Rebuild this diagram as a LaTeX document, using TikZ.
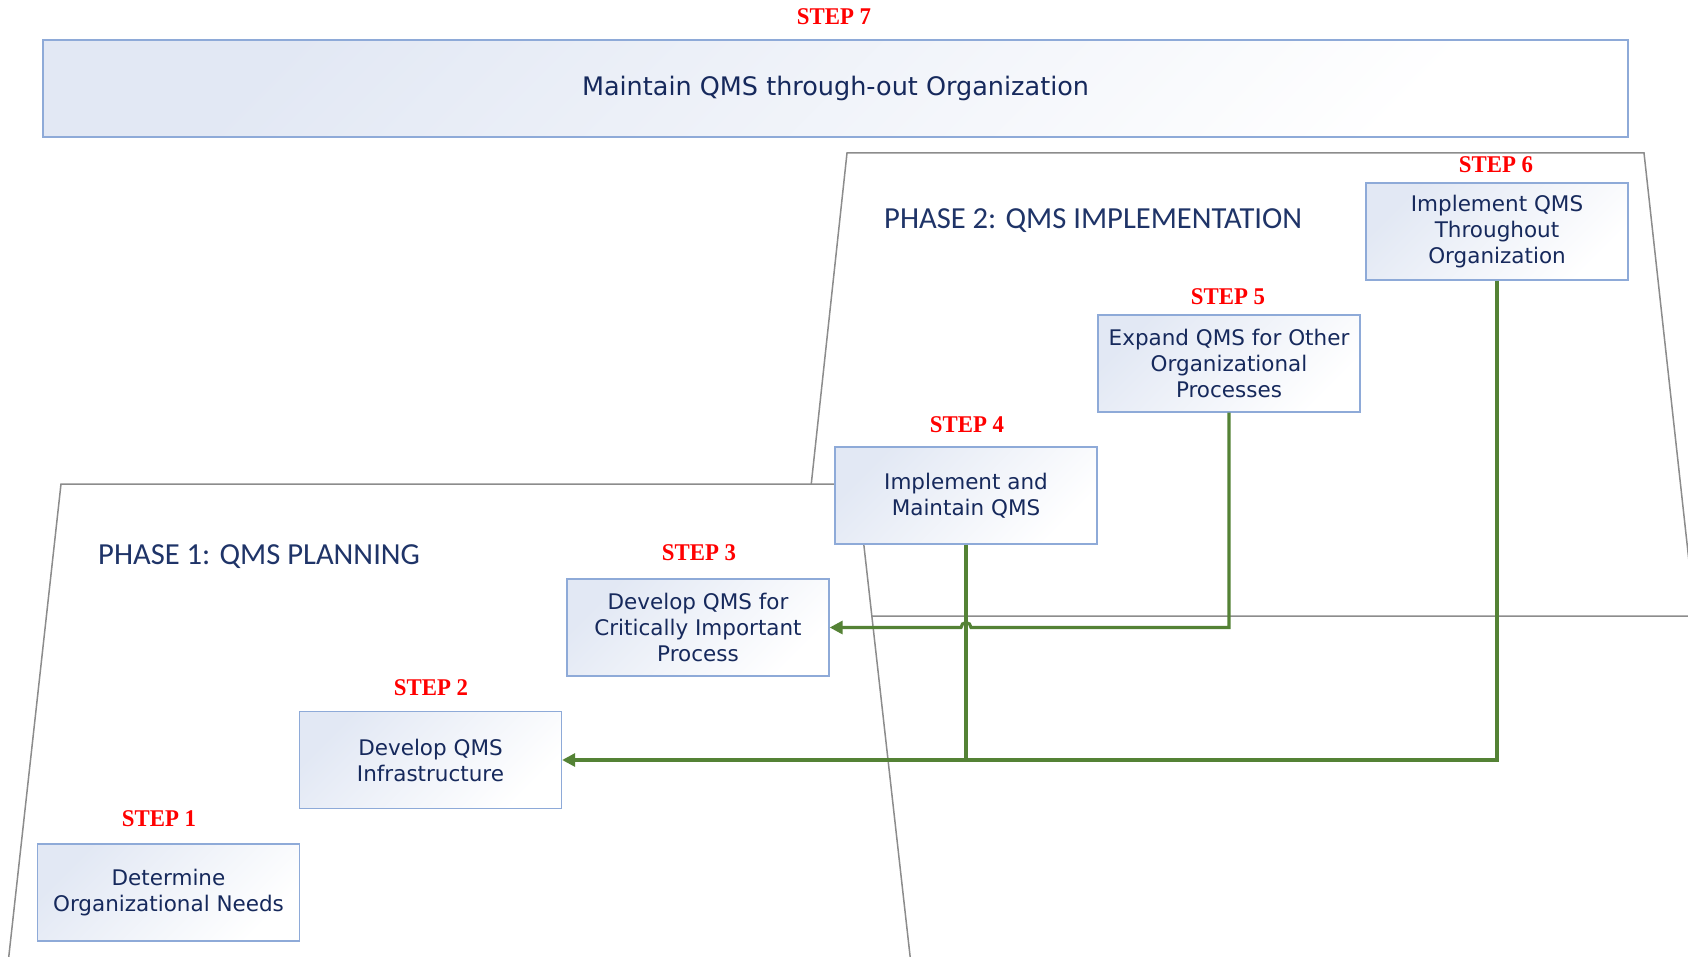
\documentclass[tikz,border=0pt]{standalone}
\usepackage{fontspec}
\setmainfont{DejaVu Sans}
\newfontfamily\stepfont{Liberation Serif}
\newfontfamily\phasefont{Carlito}
\usetikzlibrary{arrows.meta,calc}

\definecolor{boxline}{HTML}{8EAAD8}
\definecolor{boxtint}{HTML}{E2E8F4}
\definecolor{navy}{HTML}{16295C}
\definecolor{phasenavy}{HTML}{1F3468}
\definecolor{flowgreen}{HTML}{548235}
\definecolor{stepred}{HTML}{FF0000}
\definecolor{outline}{HTML}{8C8C8C}

\tikzset{
  stepbox/.style={draw=boxline, line width=1.3pt, top color=boxtint, bottom color=white,
    shading angle=45, minimum width=262pt, minimum height=97pt, inner sep=2pt,
    align=center, text=navy, font=\fontsize{21.5}{26}\selectfont},
  steplabel/.style={text=stepred, inner sep=0pt, font=\stepfont\bfseries\fontsize{24}{24}\selectfont},
  phaseshape/.style={draw=outline, line width=1.5pt, fill=white, line join=miter},
  phaselabel/.style={anchor=west, inner sep=0pt, text=phasenavy, font=\phasefont\fontsize{30.6}{31}\selectfont},
  flow/.style={draw=flowgreen, line width=3.1pt},
  flowarrow/.style={flow, -{Triangle[length=13pt,width=13pt]}}
}
\newcommand{\steptext}[1]{\scalebox{0.95}[1]{#1}}

\begin{document}
\begin{tikzpicture}[x=1pt,y=-1pt]
\useasboundingbox (0,0) rectangle (1688,957);

% phase outlines (phase 1 in front of phase 2)
\path[phaseshape] (847,153) -- (1644,153) -- (1695,616) -- (797,616) -- cycle;
\path[phaseshape] (61,484) -- (857,484) -- (915,1000) -- (4,1000) -- cycle;

\node[phaselabel] (p1) at (98,557) {PHASE 1: QMS PLANNING};
\node[phaselabel] (p2) at (884,221) {PHASE 2: QMS IMPLEMENTATION};

% top banner
\node[stepbox, minimum width=1585pt, minimum height=97pt, font=\fontsize{25.5}{30}\selectfont]
  (s7) at (835.5,88.5) {Maintain QMS through-out Organization};
\node[steplabel] (l7) at (834,17) {\steptext{STEP 7}};

% step boxes
\node[stepbox] (s1) at (168.5,892.5) {Determine\\Organizational Needs};
\node[stepbox] (s2) at (430.5,760) {Develop QMS\\Infrastructure};
\node[stepbox] (s3) at (698,627.5) {Develop QMS for\\Critically Important\\Process};
\node[stepbox] (s4) at (966,495.5) {Implement and\\Maintain QMS};
\node[stepbox] (s5) at (1229,363.5) {Expand QMS for Other\\Organizational\\Processes};
\node[stepbox] (s6) at (1497,231.5) {Implement QMS\\Throughout\\Organization};

\node[steplabel] (l1) at (159,819) {\steptext{STEP 1}};
\node[steplabel] (l2) at (431,688) {\steptext{STEP 2}};
\node[steplabel] (l3) at (699,553) {\steptext{STEP 3}};
\node[steplabel] (l4) at (967,425) {\steptext{STEP 4}};
\node[steplabel] (l5) at (1228,297) {\steptext{STEP 5}};
\node[steplabel] (l6) at (1496,165) {\steptext{STEP 6}};

% connectors
\draw[flowarrow] (s6.south) |- (s2.east);
\draw[flow] (s4.south) -- (s4.south |- s2.east);
\draw[flowarrow] (s5.south) -- (s5.south |- s3.east)
  -- ($(s4.south |- s3.east)+(5,0)$) arc[start angle=0, end angle=180, radius=5pt]
  -- (s3.east);
\end{tikzpicture}
\end{document}
